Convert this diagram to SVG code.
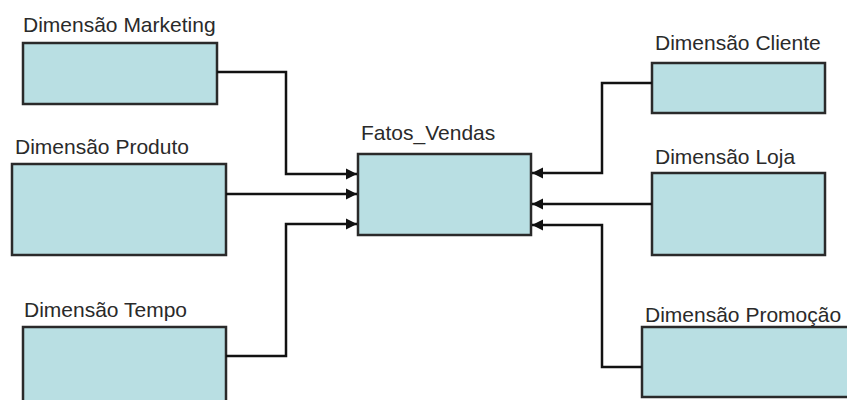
<svg xmlns="http://www.w3.org/2000/svg" width="847" height="400" viewBox="0 0 847 400">
<style>
.box{fill:#b9dfe3;stroke:#2a2a2a;stroke-width:2.5}
.lbl{font-family:"Liberation Sans",Arial,sans-serif;font-size:21px;fill:#2a2a2a}
.con{fill:none;stroke:#111;stroke-width:2.5}
</style>
<defs>
<marker id="ah" markerUnits="userSpaceOnUse" markerWidth="14" markerHeight="14" refX="11" refY="7" orient="auto">
<path d="M0,1.5 L11,7 L0,12.5 Z" fill="#111"/>
</marker>
</defs>
<rect width="847" height="400" fill="#fff"/>
<g id="marketing"><rect class="box" x="23" y="43" width="194" height="61"/><text class="lbl" x="23" y="32">Dimensão Marketing</text></g>
<g id="produto"><rect class="box" x="12" y="164" width="214" height="91"/><text class="lbl" x="15" y="154">Dimensão Produto</text></g>
<g id="tempo"><rect class="box" x="23" y="327" width="203" height="80"/><text class="lbl" x="24" y="317">Dimensão Tempo</text></g>
<g id="fatos"><rect class="box" x="358" y="154" width="173" height="81"/><text class="lbl" x="361" y="140">Fatos_Vendas</text></g>
<g id="cliente"><rect class="box" x="652" y="63" width="173" height="50"/><text class="lbl" x="655" y="50">Dimensão Cliente</text></g>
<g id="loja"><rect class="box" x="652" y="173" width="173" height="82"/><text class="lbl" x="655" y="164">Dimensão Loja</text></g>
<g id="promocao"><rect class="box" x="642" y="327" width="215" height="70"/><text class="lbl" x="645" y="322">Dimensão Promoção</text></g>
<g id="connectors">
<path class="con" d="M217,72 H286 V174 H357" marker-end="url(#ah)"/>
<path class="con" d="M226,194 H357" marker-end="url(#ah)"/>
<path class="con" d="M226,356 H286 V224 H357" marker-end="url(#ah)"/>
<path class="con" d="M652,83 H602 V173 H532" marker-end="url(#ah)"/>
<path class="con" d="M652,204 H532" marker-end="url(#ah)"/>
<path class="con" d="M642,367 H602 V225 H532" marker-end="url(#ah)"/>
</g>
</svg>
